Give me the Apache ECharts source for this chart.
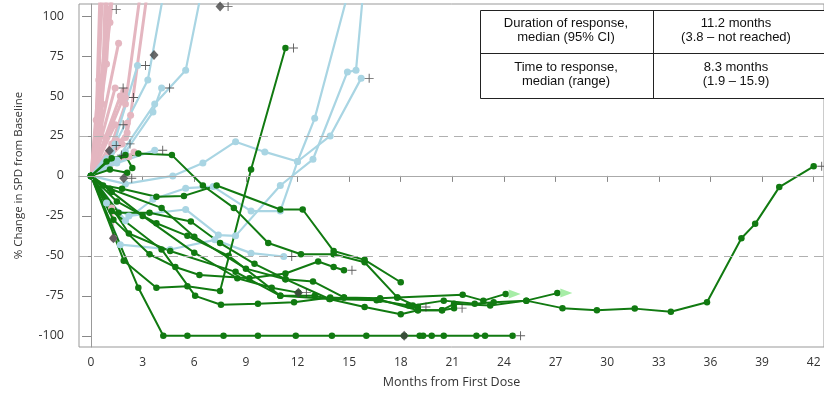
<!DOCTYPE html>
<html>
<head>
<meta charset="utf-8">
<script src="https://cdn.jsdelivr.net/npm/echarts@6/dist/echarts.min.js"></script>
<style>
  html, body { margin: 0; padding: 0; background: #fff; }
  #chart { width: 824px; height: 396px; }
</style>
</head>
<body>
<div id="chart"></div>
<script>
// tick labels
const xTicks = [0, 3, 6, 9, 12, 15, 18, 21, 24, 27, 30, 33, 36, 39, 42]
const yTicks = [-100, -75, -50, -25, 0, 25, 50, 75, 100]
const refLines = [0, 25, -50]

// progressive patients (pink), [month, % change]
const pink1 = [[0, 0], [0.45, 60], [0.7, 125]]
const pink2 = [[0, 0], [0.65, 45], [1.0, 125]]
const pink3 = [[0, 0], [1.0, 104]]
const pink4 = [[0, 0], [1.1, 96], [1.35, 125]]
const pink5 = [[0, 0], [1.6, 83]]
const pink6 = [[0, 0], [1.4, 55]]
const pink7 = [[0, 0], [1.7, 50], [1.9, 53]]
const pink8 = [[0, 0], [1.8, 47], [2.0, 49]]
const pink9 = [[0, 0], [1.4, 32]]
const pink10 = [[0, 0], [2.1, 27], [2.3, 38], [3.4, 125]]
const pink11 = [[0, 0], [1.2, 20], [2.0, 45], [3.0, 125]]
const pink12 = [[0, 0], [0.3, 35], [0.55, 125]]
const pink13 = [[0, 0], [1.0, 15], [1.5, 22]]
const pink14 = [[0, 0], [1.2, -20], [1.3, -39]]
const pink15 = [[0, 0], [0.9, 70], [1.2, 125]]
const pink16 = [[0, 0], [1.8, 20]]
const pink17 = [[0, 0], [2.2, 12], [2.5, 15]]
const pink18 = [[0, 0], [0.6, 25], [0.85, 125]]
const pink19 = [[0, 0], [2.0, 24], [2.1, 33]]

// stable patients (light blue)
const blue1 = [[0, 0], [2, -5], [4.75, 0], [6.5, 8], [8.4, 21.4], [10.1, 15], [12, 9], [13.9, 25], [15.7, 61]]
const blue2 = [[0, 0], [2, -28], [3.6, -14.6], [5.5, -7.7], [7.1, -6.7], [9.3, -22], [11, -22], [12, 9], [13, 36], [15.2, 125]]
const blue3 = [[0, 0], [0.9, -17], [2.2, -25], [5.5, -21], [7.4, -37], [8.4, -37.5], [11, -6], [12.9, 10.4], [14.9, 65], [15.4, 66], [15.9, 125]]
const blue4 = [[0, 0], [1.5, 10], [3.7, 45], [5.5, 66], [6.6, 125]]
const blue5 = [[0, 0], [2.0, 15], [3.6, 40], [4.1, 55]]
const blue6 = [[0, 0], [1.2, 15], [2.7, 69]]
const blue7 = [[0, 0], [1.4, 20], [3.3, 60], [4.4, 125]]
const blue8 = [[0, 0], [1.7, -43], [4.6, -46], [7.2, -40], [9.3, -48.3], [11.2, -50.4]]
const blue9 = [[0, 0], [1.5, 8], [3.7, 16]]

// responders (green)
const green1 = [[0, 0], [2.75, -70], [4.2, -100], [5.6, -100], [7.7, -100], [9.7, -100], [11.9, -100], [14, -100], [16, -100], [18.2, -100], [19.1, -100], [19.3, -100], [19.8, -100], [20.5, -100], [22.4, -100], [22.9, -100], [24.5, -100]]
const green2 = [[0, 0], [1.9, -53], [3.8, -70], [5.6, -69], [7.5, -72], [9.3, 4], [11.3, 80]]
const green3 = [[0, 0], [0.9, 9], [2.75, 14], [4.7, 13], [6.5, -6], [8.3, -20], [10.3, -42], [12.2, -49], [14.1, -49], [15.9, -54], [17.8, -76], [19, -82]]
const green4 = [[0, 0], [0.7, -6], [1.8, -8], [3.8, -13], [5.4, -12.5], [7.3, -6], [11, -21], [12.3, -21], [14.1, -47], [15.9, -52.5], [18, -66.5]]
const green5 = [[0, 0], [1.3, -27.5], [3.4, -49], [4.9, -57], [6.3, -62], [9.2, -64], [11.3, -61], [13.2, -53.5], [14.1, -57], [14.7, -59]]
const green6 = [[0, 0], [1.6, -23], [3.4, -23], [5.8, -28.5], [7.5, -42], [9.5, -55], [11.3, -64.6], [12.9, -66], [14.7, -76], [16.8, -76.5], [17.8, -76], [21.6, -74.4], [22.8, -78], [24.1, -73.8]]
const green7 = [[0, 0], [1.5, -16], [3.8, -29.6], [5.6, -37.5], [8, -50], [11, -75], [13.9, -77], [16.6, -77.7], [18.45, -81], [18.7, -81], [20.5, -78], [22.3, -80], [23.4, -79], [25.3, -78], [27.1, -73.3]]
const green8 = [[0, 0], [1.2, -22], [4.1, -46], [6.05, -75], [7.55, -80.6], [9.7, -80], [11.8, -79], [13.9, -76], [16.8, -77.5], [19, -84], [20.4, -84], [21.1, -80], [23.2, -81], [25.3, -78], [27.4, -82.7], [29.4, -84], [31.6, -83], [33.7, -85], [35.8, -79], [37.8, -39], [38.6, -30], [40, -7], [42, 6]]
const green9 = [[0, 0], [2.2, -36], [4.6, -47], [8.4, -60], [11, -75], [13, -75], [15.9, -82], [18, -86.5], [19, -84], [20.4, -84], [21.1, -82.7]]
const green10 = [[0, 0], [1.1, -8], [4.1, -20], [6, -38], [9, -58], [11.3, -64.6], [13.85, -77], [14.7, -76]]
const green11 = [[0, 0], [1.2, -10], [3, -25], [6, -48], [8.5, -64], [10.5, -70], [12.05, -73]]
const green12 = [[0, 0], [1.1, 4], [2.1, 2]]
const green13 = [[0, 0], [1.2, 11], [2.0, 13], [2.4, 5]]

// markers
const censored = [[24.5, -100], [11.3, 80], [14.7, -59], [42, 6], [21.1, -82.7], [19, -82], [12.05, -73], [15.7, 61], [4.1, 55], [2.7, 69], [11.2, -50.4], [3.7, 16], [1.0, 104], [1.4, 55], [2.0, 49], [1.4, 32], [1.9, -1.5], [7.5, 106], [1.8, 20], [1.0, 19], [1.3, 13]]
const deaths = [[1.07, 15.8], [1.9, -1.5], [3.66, 75.6], [7.5, 106], [12.05, -73], [18.2, -100], [1.3, -39]]
const ongoing = [[24.1, -73.8], [27.1, -73.3]]

const pinkLines = [pink1, pink2, pink3, pink4, pink5, pink6, pink7, pink8, pink9, pink10, pink11, pink12, pink13, pink14, pink15, pink16, pink17, pink18, pink19]
const blueLines = [blue1, blue2, blue3, blue4, blue5, blue6, blue7, blue8, blue9]
const greenLines = [green1, green2, green3, green4, green5, green6, green7, green8, green9, green10, green11, green12, green13]

const PLUS = 'path://M4.5,0h1v4.5h4.5v1h-4.5v4.5h-1v-4.5h-4.5v-1h4.5z'
const FONT = '"Open Sans", "DejaVu Sans", sans-serif'

const myChart = echarts.init(document.getElementById('chart'))

const lineSeries = (data, color, width, size) => ({
  type: 'line',
  data: data,
  symbol: 'circle',
  symbolSize: size,
  showSymbol: true,
  clip: true,
  silent: true,
  itemStyle: { color: color },
  lineStyle: { color: color, width: width }
})

const series = []
// reference lines, drawn first so they sit under everything
series.push({
  type: 'line',
  data: [],
  silent: true,
  markLine: {
    silent: true,
    symbol: ['none', 'none'],
    label: { show: false },
    lineStyle: { color: '#b0b0b0', width: 1, type: [9, 6] },
    data: refLines.map(v => (v === 0 ? { yAxis: v, lineStyle: { type: 'solid', color: '#aaa' } } : { yAxis: v }))
  }
})
pinkLines.forEach(d => series.push(lineSeries(d, '#e4b6c0', 3, 7)))
blueLines.forEach(d => series.push(lineSeries(d, '#a9d5e3', 2.2, 7)))
greenLines.forEach(d => series.push(lineSeries(d, '#117a11', 2, 6.5)))
series.push({
  type: 'scatter',
  data: ongoing,
  symbol: 'triangle',
  symbolRotate: -90,
  symbolSize: [9, 12],
  symbolOffset: [9, 0],
  itemStyle: { color: '#90e890' },
  silent: true,
  z: 5
})
series.push({
  type: 'scatter',
  data: deaths,
  symbol: 'diamond',
  symbolSize: [9, 10],
  itemStyle: { color: '#444' },
  silent: true,
  z: 6
})
series.push({
  type: 'scatter',
  data: censored,
  symbol: PLUS,
  symbolSize: 9,
  symbolOffset: [8, 0],
  itemStyle: { color: '#333' },
  silent: true,
  z: 7
})

const option = {
  animation: false,
  grid: { left: 79, right: 0, top: 4, bottom: 49, show: true, borderColor: '#999', borderWidth: 1, backgroundColor: 'transparent' },
  xAxis: {
    type: 'value',
    min: -0.7,
    max: 42.6,
    name: 'Months from First Dose',
    nameLocation: 'middle',
    nameGap: 29,
    nameTextStyle: { color: '#333', fontSize: 12.5, fontFamily: FONT },
    splitLine: { show: false },
    axisLine: { show: true, lineStyle: { color: '#999' } },
    axisTick: { show: true, customValues: xTicks, length: 6, lineStyle: { color: '#888' } },
    axisLabel: { customValues: xTicks, color: '#333', fontSize: 12, margin: 10, fontFamily: FONT }
  },
  yAxis: {
    type: 'value',
    min: -107,
    max: 107.5,
    name: '% Change in SPD from Baseline',
    nameLocation: 'middle',
    nameGap: 54,
    nameRotate: 90,
    nameTextStyle: { color: '#333', fontSize: 11.5, fontFamily: FONT },
    splitLine: { show: false },
    axisLine: { show: true, lineStyle: { color: '#999' } },
    axisTick: { show: true, customValues: yTicks, length: 9, lineStyle: { color: '#888' } },
    axisLabel: { customValues: yTicks, color: '#333', fontSize: 12.5, margin: 15, fontFamily: FONT }
  },
  graphic: [
    { type: 'rect', z: 100, shape: { x: 480.5, y: 10.5, width: 360, height: 88 }, style: { fill: '#fff', stroke: '#222', lineWidth: 1 } },
    { type: 'line', z: 101, shape: { x1: 653.5, y1: 10, x2: 653.5, y2: 98 }, style: { stroke: '#222', lineWidth: 1 } },
    { type: 'line', z: 101, shape: { x1: 480, y1: 53.5, x2: 840, y2: 53.5 }, style: { stroke: '#222', lineWidth: 1 } },
    { type: 'text', z: 102, x: 566, y: 23, style: { text: 'Duration of response,', font: '13px "Liberation Sans", Arial', fill: '#111', align: 'center', verticalAlign: 'middle' } },
    { type: 'text', z: 102, x: 566, y: 37, style: { text: 'median (95% CI)', font: '13px "Liberation Sans", Arial', fill: '#111', align: 'center', verticalAlign: 'middle' } },
    { type: 'text', z: 102, x: 736, y: 23, style: { text: '11.2 months', font: '13px "Liberation Sans", Arial', fill: '#111', align: 'center', verticalAlign: 'middle' } },
    { type: 'text', z: 102, x: 736, y: 37, style: { text: '(3.8 – not reached)', font: '13px "Liberation Sans", Arial', fill: '#111', align: 'center', verticalAlign: 'middle' } },
    { type: 'text', z: 102, x: 566, y: 67, style: { text: 'Time to response,', font: '13px "Liberation Sans", Arial', fill: '#111', align: 'center', verticalAlign: 'middle' } },
    { type: 'text', z: 102, x: 566, y: 81, style: { text: 'median (range)', font: '13px "Liberation Sans", Arial', fill: '#111', align: 'center', verticalAlign: 'middle' } },
    { type: 'text', z: 102, x: 736, y: 67, style: { text: '8.3 months', font: '13px "Liberation Sans", Arial', fill: '#111', align: 'center', verticalAlign: 'middle' } },
    { type: 'text', z: 102, x: 736, y: 81, style: { text: '(1.9 – 15.9)', font: '13px "Liberation Sans", Arial', fill: '#111', align: 'center', verticalAlign: 'middle' } }
  ],
  series: series
}
myChart.setOption(option)
window.addEventListener('resize', () => myChart.resize())
</script>
</body>
</html>
